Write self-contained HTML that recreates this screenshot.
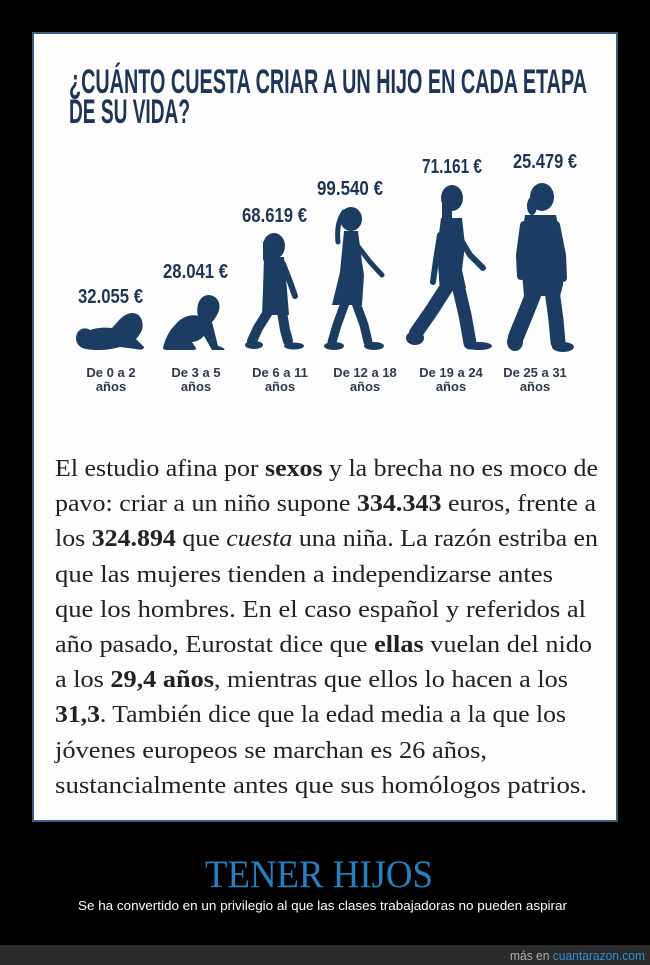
<!DOCTYPE html>
<html><head><meta charset="utf-8"><style>
html,body{margin:0;padding:0;background:#000;}
svg{display:block;}
</style></head><body>
<svg width="650" height="965" viewBox="0 0 650 965" xmlns="http://www.w3.org/2000/svg">
<rect x="0" y="0" width="650" height="965" fill="#000"/>
<rect x="33" y="33" width="584" height="788" fill="#fdfdfd" stroke="#3d5c82" stroke-width="2"/>

<g font-family="Liberation Sans, DejaVu Sans, sans-serif" font-weight="bold" fill="#1f3556">
<text x="69" y="93" font-size="34" textLength="518" lengthAdjust="spacingAndGlyphs">¿CUÁNTO CUESTA CRIAR A UN HIJO EN CADA ETAPA</text>
<text x="69" y="123" font-size="34" textLength="121" lengthAdjust="spacingAndGlyphs">DE SU VIDA?</text>
</g>

<g font-family="Liberation Sans, DejaVu Sans, sans-serif" font-weight="bold" fill="#1f3556" font-size="20">
<text x="78" y="303" textLength="65" lengthAdjust="spacingAndGlyphs">32.055 €</text>
<text x="163" y="278" textLength="65" lengthAdjust="spacingAndGlyphs">28.041 €</text>
<text x="242" y="222" textLength="65" lengthAdjust="spacingAndGlyphs">68.619 €</text>
<text x="317" y="195" textLength="66" lengthAdjust="spacingAndGlyphs">99.540 €</text>
<text x="422" y="173" textLength="60" lengthAdjust="spacingAndGlyphs">71.161 €</text>
<text x="513" y="168" textLength="64" lengthAdjust="spacingAndGlyphs">25.479 €</text>
</g>

<g font-family="Liberation Sans, DejaVu Sans, sans-serif" font-weight="bold" fill="#2e3a4c" font-size="13" text-anchor="middle">
<text x="111" y="377">De 0 a 2</text><text x="111" y="391">años</text>
<text x="196" y="377">De 3 a 5</text><text x="196" y="391">años</text>
<text x="280" y="377">De 6 a 11</text><text x="280" y="391">años</text>
<text x="365" y="377">De 12 a 18</text><text x="365" y="391">años</text>
<text x="451" y="377">De 19 a 24</text><text x="451" y="391">años</text>
<text x="535" y="377">De 25 a 31</text><text x="535" y="391">años</text>
</g>

<!-- silhouettes -->
<g fill="#1c3d63" stroke="#1c3d63" stroke-linecap="round" stroke-linejoin="round">
<!-- fig 1 lying baby -->
<path stroke="none" d="M76,338 C76,330 84,326 90,330 C96,328 104,327 112,328 C118,322 122,314 132,313 C141,313 144,322 142,330 C140,334 138,337 136,339 L144,347 C144,350 140,350 136,349 L120,347 C110,350 96,351 86,349 C80,348 76,344 76,338 Z"/>
<!-- fig 2 crawling baby -->
<path stroke="none" d="M163,348 C165,340 168,332 175,325 C182,316 192,314 198,316 C196,308 198,296 208,295 C218,295 222,305 218,313 C216,317 214,320 212,322 L218,346 C222,347 226,349 224,350 L212,350 L204,336 C200,340 196,342 192,342 L196,348 C197,350 194,350 190,350 L170,350 C166,350 163,350 163,348 Z"/>
<!-- fig 3 child -->
<ellipse stroke="none" cx="274" cy="246" rx="11" ry="13"/>
<rect stroke="none" x="263" y="240" width="10" height="22" rx="3"/>
<path stroke="none" d="M264,257 L284,257 L287,290 L289,315 L262,315 L263,290 Z"/>
<polyline fill="none" stroke-width="6" points="283,264 290,282 295,296"/>
<polyline fill="none" stroke-width="10" points="268,312 258,328 252,341"/>
<ellipse stroke="none" cx="254" cy="345" rx="9" ry="4"/>
<polyline fill="none" stroke-width="10" points="282,312 285,330 288,341"/>
<ellipse stroke="none" cx="294" cy="346" rx="10" ry="3.5"/>
<!-- fig 4 girl -->
<ellipse stroke="none" cx="351" cy="219" rx="11" ry="12"/>
<path fill="none" stroke-width="5" d="M344,212 C338,220 337,232 338,242"/>
<path stroke="none" d="M344,231 L358,231 L362,262 L364,275 L362,305 L332,305 L340,272 Z"/>
<polyline fill="none" stroke-width="5" points="357,245 370,262 382,275"/>
<polyline fill="none" stroke-width="9" points="345,303 337,325 332,342"/>
<ellipse stroke="none" cx="334" cy="346" rx="10" ry="4"/>
<polyline fill="none" stroke-width="9" points="356,303 364,325 368,342"/>
<ellipse stroke="none" cx="374" cy="346" rx="10" ry="4"/>
<!-- fig 5 woman -->
<ellipse stroke="none" cx="452" cy="198" rx="11" ry="13"/>
<rect stroke="none" x="442" y="192" width="10" height="34" rx="4"/>
<path stroke="none" d="M441,218 L462,218 L465,245 L462,270 L466,288 L440,292 L437,250 Z"/>
<polyline fill="none" stroke-width="6" points="458,235 470,255 483,268"/>
<polyline fill="none" stroke-width="6" points="440,235 436,260 433,282"/>
<polyline fill="none" stroke-width="14" points="448,285 432,310 416,333"/>
<ellipse stroke="none" cx="415" cy="338" rx="9" ry="7"/>
<polyline fill="none" stroke-width="13" points="458,285 465,315 470,343"/>
<ellipse stroke="none" cx="479" cy="346" rx="13" ry="4"/>
<!-- fig 6 -->
<ellipse stroke="none" cx="542" cy="197" rx="12" ry="14"/>
<ellipse stroke="none" cx="532" cy="206" rx="5" ry="9"/>
<path stroke="none" d="M525,215 L556,215 L563,250 L563,285 L560,296 L524,296 L520,250 Z"/>
<polyline fill="none" stroke-width="8" points="524,225 520,255 521,276"/>
<polyline fill="none" stroke-width="8" points="556,225 562,255 563,278"/>
<polyline fill="none" stroke-width="16" points="535,290 525,315 516,337"/>
<ellipse stroke="none" cx="515" cy="342" rx="8" ry="9"/>
<polyline fill="none" stroke-width="15" points="552,290 556,320 558,342"/>
<ellipse stroke="none" cx="563" cy="347" rx="11" ry="5"/>
</g>

<g font-family="Liberation Serif, DejaVu Serif, serif" font-size="24" fill="#222">
<text x="55" y="476" textLength="543" lengthAdjust="spacingAndGlyphs">El estudio afina por <tspan font-weight="bold">sexos</tspan> y la brecha no es moco de</text>
<text x="55" y="511" textLength="541" lengthAdjust="spacingAndGlyphs">pavo: criar a un niño supone <tspan font-weight="bold">334.343</tspan> euros, frente a</text>
<text x="55" y="546" textLength="543" lengthAdjust="spacingAndGlyphs">los <tspan font-weight="bold">324.894</tspan> que <tspan font-style="italic">cuesta</tspan> una niña. La razón estriba en</text>
<text x="55" y="582" textLength="498" lengthAdjust="spacingAndGlyphs">que las mujeres tienden a independizarse antes</text>
<text x="55" y="617" textLength="531" lengthAdjust="spacingAndGlyphs">que los hombres. En el caso español y referidos al</text>
<text x="55" y="652" textLength="537" lengthAdjust="spacingAndGlyphs">año pasado, Eurostat dice que <tspan font-weight="bold">ellas</tspan> vuelan del nido</text>
<text x="55" y="687" textLength="513" lengthAdjust="spacingAndGlyphs">a los <tspan font-weight="bold">29,4 años</tspan>, mientras que ellos lo hacen a los</text>
<text x="55" y="722" textLength="511" lengthAdjust="spacingAndGlyphs"><tspan font-weight="bold">31,3</tspan>. También dice que la edad media a la que los</text>
<text x="55" y="758" textLength="432" lengthAdjust="spacingAndGlyphs">jóvenes europeos se marchan es 26 años,</text>
<text x="55" y="793" textLength="532" lengthAdjust="spacingAndGlyphs">sustancialmente antes que sus homólogos patrios.</text>
</g>

<text x="205" y="887" font-family="Liberation Serif, DejaVu Serif, serif" font-size="39" fill="#2580c2" textLength="228" lengthAdjust="spacingAndGlyphs">TENER HIJOS</text>
<text x="78" y="910" font-family="Liberation Sans, DejaVu Sans, sans-serif" font-size="12.5" fill="#ffffff" textLength="489" lengthAdjust="spacingAndGlyphs">Se ha convertido en un privilegio al que las clases trabajadoras no pueden aspirar</text>

<rect x="0" y="945" width="650" height="20" fill="#2b2b2b"/>
<text x="510" y="960" font-family="Liberation Sans, DejaVu Sans, sans-serif" font-size="12.5" fill="#aaaaaa" textLength="135" lengthAdjust="spacingAndGlyphs">más en <tspan fill="#2a90d4">cuantarazon.com</tspan></text>
</svg>
</body></html>
